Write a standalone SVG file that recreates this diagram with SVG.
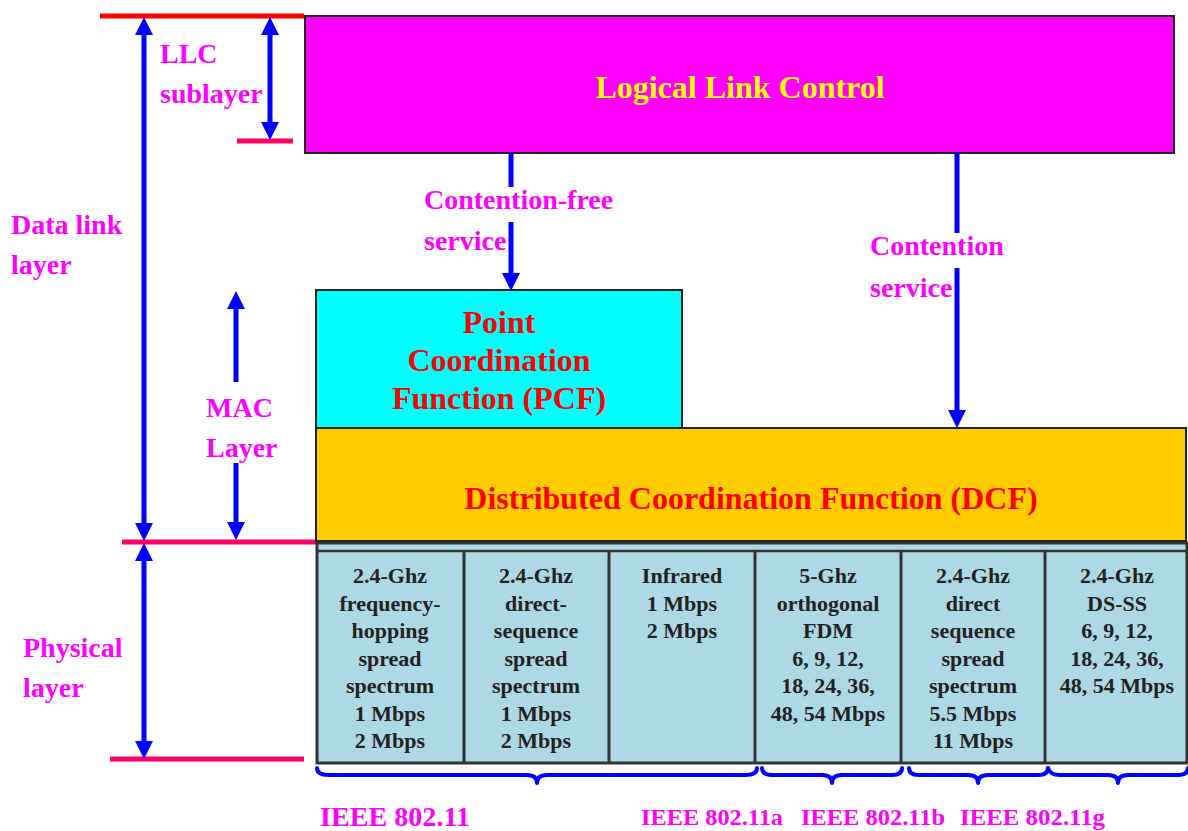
<svg xmlns="http://www.w3.org/2000/svg" width="1188" height="831" viewBox="0 0 1188 831">
  <defs>
    <marker id="head" viewBox="0 0 18 18" markerUnits="userSpaceOnUse" markerWidth="18" markerHeight="18" refX="7" refY="9" orient="auto-start-reverse">
      <path d="M0,0 L18,9 L0,18 Z" fill="#0000ff"/>
    </marker>
    <style>
      .box { stroke: #222; stroke-width: 2; }
      .title { font-family: "Liberation Serif", "Times New Roman", serif; font-weight: bold; font-size: 32px; text-anchor: middle; }
      .lbl { font-family: "Liberation Serif", "Times New Roman", serif; font-weight: bold; font-size: 28px; fill: #ff00ff; }
      .std { font-family: "Liberation Serif", "Times New Roman", serif; font-weight: bold; fill: #ff00ff; }
      .cell { font-family: "Liberation Serif", "Times New Roman", serif; font-weight: bold; font-size: 22px; fill: #222; text-anchor: middle; }
      .shaft { stroke: #0000ff; stroke-width: 5; fill: none; }
      .lev { stroke: #ff0066; stroke-width: 5; }
      .brace { stroke: #0000ff; stroke-width: 4; fill: none; stroke-linejoin: round; stroke-linecap: round; }
    </style>
  </defs>

  <!-- layer boundary lines -->
  <g id="levels">
    <line x1="100" y1="16" x2="304" y2="16" stroke="#ff0000" stroke-width="5"/>
    <line class="lev" x1="237" y1="141" x2="293" y2="141"/>
    <line class="lev" x1="122" y1="542" x2="316" y2="542"/>
    <line class="lev" x1="110" y1="759" x2="304" y2="759"/>
  </g>

  <!-- LLC -->
  <g id="llc">
    <rect class="box" x="305" y="16" width="869" height="137" fill="#ff00ff"/>
    <text class="title" x="740" y="98" fill="#ffff00">Logical Link Control</text>
  </g>

  <!-- PCF -->
  <g id="pcf">
    <rect class="box" x="316" y="290" width="366" height="138" fill="#00ffff"/>
    <text class="title" x="499" y="333" fill="#ff0000">Point</text>
    <text class="title" x="499" y="371" fill="#ff0000">Coordination</text>
    <text class="title" x="499" y="409" fill="#ff0000">Function (PCF)</text>
  </g>

  <!-- DCF -->
  <g id="dcf">
    <rect class="box" x="316" y="428" width="870" height="113" fill="#ffcc00"/>
    <text class="title" x="751" y="509" fill="#ff0000">Distributed Coordination Function (DCF)</text>
  </g>

  <!-- physical layer table -->
  <g id="phy">
    <rect x="317" y="543" width="870" height="220" fill="#add8e6" stroke="#333" stroke-width="3"/>
    <line x1="317" y1="551" x2="1187" y2="551" stroke="#333" stroke-width="2.5"/>
    <g stroke="#333" stroke-width="3">
      <line x1="464" y1="551" x2="464" y2="763"/>
      <line x1="609" y1="551" x2="609" y2="763"/>
      <line x1="755" y1="551" x2="755" y2="763"/>
      <line x1="901" y1="551" x2="901" y2="763"/>
      <line x1="1045" y1="551" x2="1045" y2="763"/>
    </g>
    <text class="cell" x="390">
      <tspan x="390" y="583">2.4-Ghz</tspan><tspan x="390" y="610.5">frequency-</tspan><tspan x="390" y="638">hopping</tspan><tspan x="390" y="665.5">spread</tspan><tspan x="390" y="693">spectrum</tspan><tspan x="390" y="720.5">1 Mbps</tspan><tspan x="390" y="748">2 Mbps</tspan>
    </text>
    <text class="cell" x="536">
      <tspan x="536" y="583">2.4-Ghz</tspan><tspan x="536" y="610.5">direct-</tspan><tspan x="536" y="638">sequence</tspan><tspan x="536" y="665.5">spread</tspan><tspan x="536" y="693">spectrum</tspan><tspan x="536" y="720.5">1 Mbps</tspan><tspan x="536" y="748">2 Mbps</tspan>
    </text>
    <text class="cell" x="682">
      <tspan x="682" y="583">Infrared</tspan><tspan x="682" y="610.5">1 Mbps</tspan><tspan x="682" y="638">2 Mbps</tspan>
    </text>
    <text class="cell" x="828">
      <tspan x="828" y="583">5-Ghz</tspan><tspan x="828" y="610.5">orthogonal</tspan><tspan x="828" y="638">FDM</tspan><tspan x="828" y="665.5">6, 9, 12,</tspan><tspan x="828" y="693">18, 24, 36,</tspan><tspan x="828" y="720.5">48, 54 Mbps</tspan>
    </text>
    <text class="cell" x="973">
      <tspan x="973" y="583">2.4-Ghz</tspan><tspan x="973" y="610.5">direct</tspan><tspan x="973" y="638">sequence</tspan><tspan x="973" y="665.5">spread</tspan><tspan x="973" y="693">spectrum</tspan><tspan x="973" y="720.5">5.5 Mbps</tspan><tspan x="973" y="748">11 Mbps</tspan>
    </text>
    <text class="cell" x="1117">
      <tspan x="1117" y="583">2.4-Ghz</tspan><tspan x="1117" y="610.5">DS-SS</tspan><tspan x="1117" y="638">6, 9, 12,</tspan><tspan x="1117" y="665.5">18, 24, 36,</tspan><tspan x="1117" y="693">48, 54 Mbps</tspan>
    </text>
  </g>

  <!-- side labels -->
  <g id="labels">
    <text class="lbl" x="160" y="63">LLC</text>
    <text class="lbl" x="160" y="103">sublayer</text>
    <text class="lbl" x="11" y="234">Data link</text>
    <text class="lbl" x="11" y="274">layer</text>
    <text class="lbl" x="206" y="417">MAC</text>
    <text class="lbl" x="206" y="457">Layer</text>
    <text class="lbl" x="23" y="657">Physical</text>
    <text class="lbl" x="23" y="697">layer</text>
    <text class="lbl" x="424" y="209">Contention-free</text>
    <text class="lbl" x="424" y="250">service</text>
    <text class="lbl" x="870" y="255">Contention</text>
    <text class="lbl" x="870" y="297">service</text>
  </g>

  <!-- connectors and dimension arrows -->
  <g id="connectors">
    <line class="shaft" x1="270" y1="28" x2="270" y2="129" marker-start="url(#head)" marker-end="url(#head)"/>
    <line class="shaft" x1="144" y1="28" x2="144" y2="530" marker-start="url(#head)" marker-end="url(#head)"/>
    <line class="shaft" x1="144" y1="554" x2="144" y2="748" marker-start="url(#head)" marker-end="url(#head)"/>
    <line class="shaft" x1="236" y1="382" x2="236" y2="302" marker-end="url(#head)"/>
    <line class="shaft" x1="236" y1="463" x2="236" y2="529" marker-end="url(#head)"/>
    <line class="shaft" x1="511" y1="153" x2="511" y2="187"/>
    <line class="shaft" x1="511" y1="222" x2="511" y2="280" marker-end="url(#head)"/>
    <line class="shaft" x1="957" y1="153" x2="957" y2="233"/>
    <line class="shaft" x1="957" y1="268" x2="957" y2="417" marker-end="url(#head)"/>
  </g>

  <!-- standard braces -->
  <g id="braces">
    <path class="brace" d="M317,768 Q317,775 329,775 L527,775 Q537,775 537,783 Q537,775 547,775 L745,775 Q757,775 757,768"/>
    <path class="brace" d="M762,768 Q762,775 772,775 L822,775 Q832,775 832,783 Q832,775 842,775 L892,775 Q902,775 902,768"/>
    <path class="brace" d="M909,768 Q909,775 919,775 L968,775 Q978,775 978,783 Q978,775 988,775 L1038,775 Q1048,775 1048,768"/>
    <path class="brace" d="M1048,768 Q1050,775 1060,775 L1108,775 Q1118,775 1118,783 Q1118,775 1128,775 L1178,775 Q1188,775 1188,768"/>
  </g>

  <g id="standards">
    <text class="std" x="320" y="826" font-size="27" textLength="150" lengthAdjust="spacingAndGlyphs">IEEE 802.11</text>
    <text class="std" x="641" y="825" font-size="24" textLength="142" lengthAdjust="spacingAndGlyphs">IEEE 802.11a</text>
    <text class="std" x="801" y="825" font-size="24" textLength="144" lengthAdjust="spacingAndGlyphs">IEEE 802.11b</text>
    <text class="std" x="960" y="825" font-size="24" textLength="145" lengthAdjust="spacingAndGlyphs">IEEE 802.11g</text>
  </g>
</svg>
